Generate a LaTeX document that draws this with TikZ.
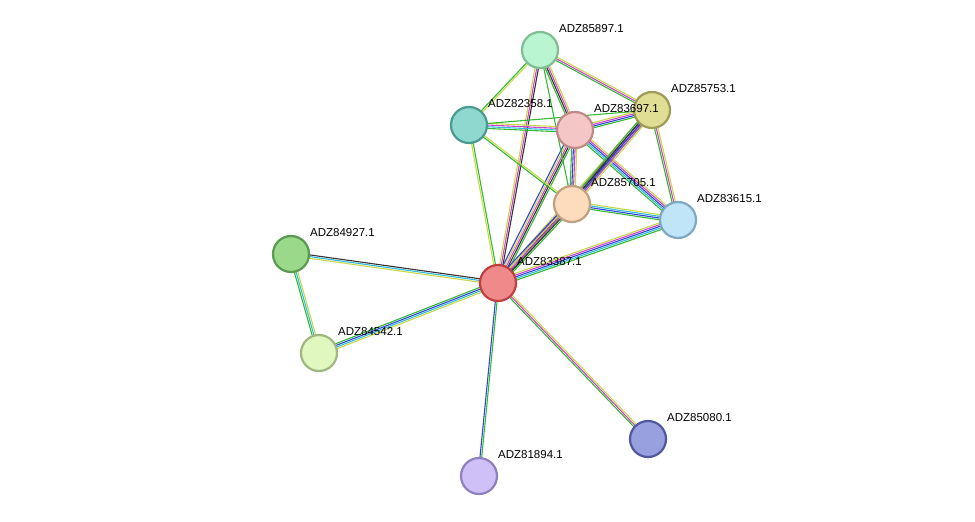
\documentclass[tikz,border=0pt]{standalone}
\usepackage{fontspec}
\setmainfont{Liberation Sans}
\usetikzlibrary{calc,backgrounds}

\definecolor{eGreen}{HTML}{33BB33}
\definecolor{eYellow}{HTML}{C8D84A}
\definecolor{eMagenta}{HTML}{CC44CC}
\definecolor{eBlue}{HTML}{3344DD}
\definecolor{eCyan}{HTML}{33BBDD}
\definecolor{eDark}{HTML}{333333}

\tikzset{
  prot/.style={circle,draw,line width=2.2pt,minimum size=36pt,inner sep=0pt},
  lab/.style={anchor=south west,font=\fontsize{11.5}{13}\selectfont,inner sep=1pt},
  ln/.style={line width=1.1pt}
}

% parallel coloured lines between two nodes
\newcommand\lnk[3]{%
  \foreach \c/\k in {#3}{%
    \draw[ln,\c] ($(#1)!\k*1.7pt!90:(#2)$) -- ($(#2)!\k*1.7pt!-90:(#1)$);
  }}

\begin{document}
\begin{tikzpicture}[x=1pt,y=-1pt]
\useasboundingbox (0,0) rectangle (975,522);
\node[prot,fill={rgb,255:red,185;green,245;blue,208},draw={rgb,255:red,127;green,191;blue,147}](p85897) at (540,50){};
\node[prot,fill={rgb,255:red,143;green,216;blue,208},draw={rgb,255:red,74;green,154;blue,144}](p82358) at (469,125){};
\node[prot,fill={rgb,255:red,245;green,198;blue,198},draw={rgb,255:red,192;green,138;blue,138}](p83697) at (575,130){};
\node[prot,fill={rgb,255:red,224;green,221;blue,149},draw={rgb,255:red,158;green,155;blue,85}](p85753) at (652,110){};
\node[prot,fill={rgb,255:red,252;green,220;blue,188},draw={rgb,255:red,192;green,160;blue,128}](p85705) at (572,204){};
\node[prot,fill={rgb,255:red,192;green,228;blue,248},draw={rgb,255:red,128;green,168;blue,192}](p83615) at (678,220){};
\node[prot,fill={rgb,255:red,154;green,216;blue,138},draw={rgb,255:red,90;green,154;blue,80}](p84927) at (291,254){};
\node[prot,fill={rgb,255:red,240;green,138;blue,138},draw={rgb,255:red,192;green,64;blue,64}](p83387) at (498,283){};
\node[prot,fill={rgb,255:red,224;green,248;blue,192},draw={rgb,255:red,160;green,184;blue,128}](p84542) at (319,353){};
\node[prot,fill={rgb,255:red,152;green,160;blue,224},draw={rgb,255:red,80;green,88;blue,160}](p85080) at (648,439){};
\node[prot,fill={rgb,255:red,208;green,192;blue,248},draw={rgb,255:red,144;green,128;blue,192}](p81894) at (479,476){};

\foreach \n/\t in {p85897/ADZ85897.1,p82358/ADZ82358.1,p83697/ADZ83697.1,
  p85753/ADZ85753.1,p85705/ADZ85705.1,p83615/ADZ83615.1,p84927/ADZ84927.1,
  p83387/ADZ83387.1,p84542/ADZ84542.1,p85080/ADZ85080.1,p81894/ADZ81894.1}
  \node[lab] at ($(\n.center)+(18,-16)$){\t};

\begin{scope}[on background layer]
\lnk{p83387}{p85897}{eDark/-1,eMagenta/0,eYellow/1}
\lnk{p83387}{p82358}{eGreen/-0.5,eYellow/0.5}
\lnk{p83387}{p83697}{eGreen/-2,eDark/-1,eMagenta/0,eYellow/1,eBlue/2}
\lnk{p83387}{p85753}{eGreen/-1.5,eDark/-0.5,eMagenta/0.5,eYellow/1.5}
\lnk{p83387}{p85705}{eGreen/-2,eDark/-1,eMagenta/0,eYellow/1,eBlue/2}
\lnk{p83387}{p83615}{eGreen/-2,eCyan/-1,eBlue/0,eMagenta/1,eYellow/2}
\lnk{p83387}{p84927}{eDark/-1,eCyan/0,eYellow/1}
\lnk{p83387}{p84542}{eGreen/-1.5,eBlue/-0.5,eCyan/0.5,eYellow/1.5}
\lnk{p83387}{p85080}{eGreen/-1,eMagenta/0,eYellow/1}
\lnk{p83387}{p81894}{eBlue/-0.5,eGreen/0.5}
\lnk{p84927}{p84542}{eGreen/-1,eCyan/0,eYellow/1}
\lnk{p85897}{p82358}{eGreen/-0.5,eYellow/0.5}
\lnk{p85897}{p83697}{eGreen/-1.5,eDark/-0.5,eMagenta/0.5,eYellow/1.5}
\lnk{p85897}{p85753}{eGreen/-1,eMagenta/0,eYellow/1}
\lnk{p85897}{p85705}{eGreen/0}
\lnk{p82358}{p83697}{eGreen/-1.5,eCyan/-0.5,eMagenta/0.5,eYellow/1.5}
\lnk{p82358}{p85753}{eGreen/0}
\lnk{p82358}{p85705}{eGreen/-0.5,eYellow/0.5}
\lnk{p83697}{p85753}{eGreen/-1.5,eBlue/-0.5,eMagenta/0.5,eYellow/1.5}
\lnk{p83697}{p85705}{eGreen/-1.5,eBlue/-0.5,eMagenta/0.5,eYellow/1.5}
\lnk{p83697}{p83615}{eGreen/-2,eCyan/-1,eBlue/0,eMagenta/1,eYellow/2}
\lnk{p85753}{p85705}{eGreen/-2,eDark/-1,eBlue/0,eMagenta/1,eYellow/2}
\lnk{p85753}{p83615}{eGreen/-1,eMagenta/0,eYellow/1}
\lnk{p85705}{p83615}{eGreen/-1.5,eBlue/-0.5,eCyan/0.5,eYellow/1.5}
\end{scope}
\end{tikzpicture}
\end{document}
